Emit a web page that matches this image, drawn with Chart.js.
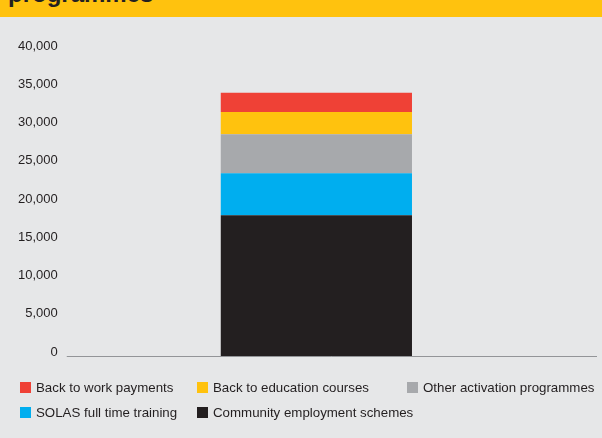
<!DOCTYPE html>
<html>

<head>
    <title>Activation programmes</title>
    <script src="https://cdn.jsdelivr.net/npm/chart.js@4"></script>
    <style>
        body {
            margin: 0;
            background: #e6e7e8;
            font-family: "Liberation Sans", Arial, sans-serif;
            color: #231f20;
        }

        #wrap {
            position: relative;
            width: 602px;
            height: 438px;
            overflow: hidden;
        }

        #banner {
            position: absolute;
            left: 0;
            top: 0;
            width: 602px;
            height: 17px;
            background: #ffc20e;
            overflow: hidden;
        }

        #banner span {
            position: absolute;
            left: 8px;
            top: -18px;
            font-size: 24px;
            line-height: 24px;
            font-weight: bold;
            color: #231f20;
            white-space: nowrap;
        }

        #legend {
            position: absolute;
            left: 20px;
            top: 380px;
            display: grid;
            grid-template-columns: 177px 210px 190px;
            row-gap: 10px;
            font-size: 13.3px;
            line-height: 15px;
        }

        .item {
            display: flex;
            align-items: center;
            white-space: nowrap;
        }

        .item i {
            display: inline-block;
            flex: 0 0 11px;
            width: 11px;
            height: 11px;
            margin-right: 5px;
        }
    </style>
</head>

<body>
    <div id="wrap">
        <canvas id="chart" width="602" height="438"></canvas>
        <div id="banner"><span>programmes</span></div>
        <div id="legend"></div>
    </div>
    <script>
        // single stacked column, bottom segment first
        const categories = ['2014'];
        const seriesNames = [
            'Community employment schemes',
            'SOLAS full time training',
            'Other activation programmes',
            'Back to education courses',
            'Back to work payments'
        ];
        const seriesColors = ['#231f20', '#00aeef', '#a7a9ac', '#ffc20e', '#ef4136'];
        const community = [18400];
        const solas = [5500];
        const otherActivation = [5100];
        const backToEducation = [2900];
        const backToWork = [2500];
        const seriesValues = [community, solas, otherActivation, backToEducation, backToWork];
        const yTicks = [0, 5000, 10000, 15000, 20000, 25000, 30000, 35000, 40000];

        // baseline runs a bit past the plot area on the right
        const baseline = {
            id: 'baseline',
            afterDatasetsDraw(chart) {
                const { ctx, chartArea, scales } = chart;
                const y = Math.round(scales.y.getPixelForValue(0)) + 0.5;
                ctx.save();
                ctx.strokeStyle = '#939598';
                ctx.lineWidth = 1;
                ctx.beginPath();
                ctx.moveTo(chartArea.left, y);
                ctx.lineTo(chartArea.right + 31, y);
                ctx.stroke();
                ctx.restore();
            }
        };

        const chart = new Chart(document.getElementById('chart'), {
            type: 'bar',
            data: {
                labels: categories,
                datasets: seriesNames.map((name, i) => ({
                    label: name,
                    data: seriesValues[i],
                    backgroundColor: seriesColors[i],
                    borderWidth: 0,
                    barPercentage: 0.383,
                    categoryPercentage: 1
                }))
            },
            options: {
                responsive: false,
                animation: false,
                layout: {
                    padding: { left: 9, right: 36, top: 50, bottom: 74 }
                },
                scales: {
                    x: {
                        stacked: true,
                        grid: { display: false },
                        border: { display: false },
                        ticks: { display: false }
                    },
                    y: {
                        stacked: true,
                        min: 0,
                        max: 40000,
                        afterBuildTicks: (axis) => {
                            axis.ticks = yTicks.map((v) => ({ value: v }));
                        },
                        grid: { display: false, drawTicks: false },
                        border: { display: false },
                        ticks: {
                            padding: 9,
                            labelOffset: -4,
                            color: '#231f20',
                            font: { family: '"Liberation Sans", Arial, sans-serif', size: 13 },
                            callback: (v) => v.toLocaleString('en-US')
                        }
                    }
                },
                plugins: {
                    legend: { display: false },
                    tooltip: { enabled: false }
                }
            },
            plugins: [baseline]
        });

        // legend lists the top segment first
        const legendEl = document.getElementById('legend');
        chart.data.datasets.slice().reverse().forEach((ds) => {
            const item = document.createElement('div');
            item.className = 'item';
            const box = document.createElement('i');
            box.style.background = ds.backgroundColor;
            item.appendChild(box);
            item.appendChild(document.createTextNode(ds.label));
            legendEl.appendChild(item);
        });
    </script>
</body>

</html>
